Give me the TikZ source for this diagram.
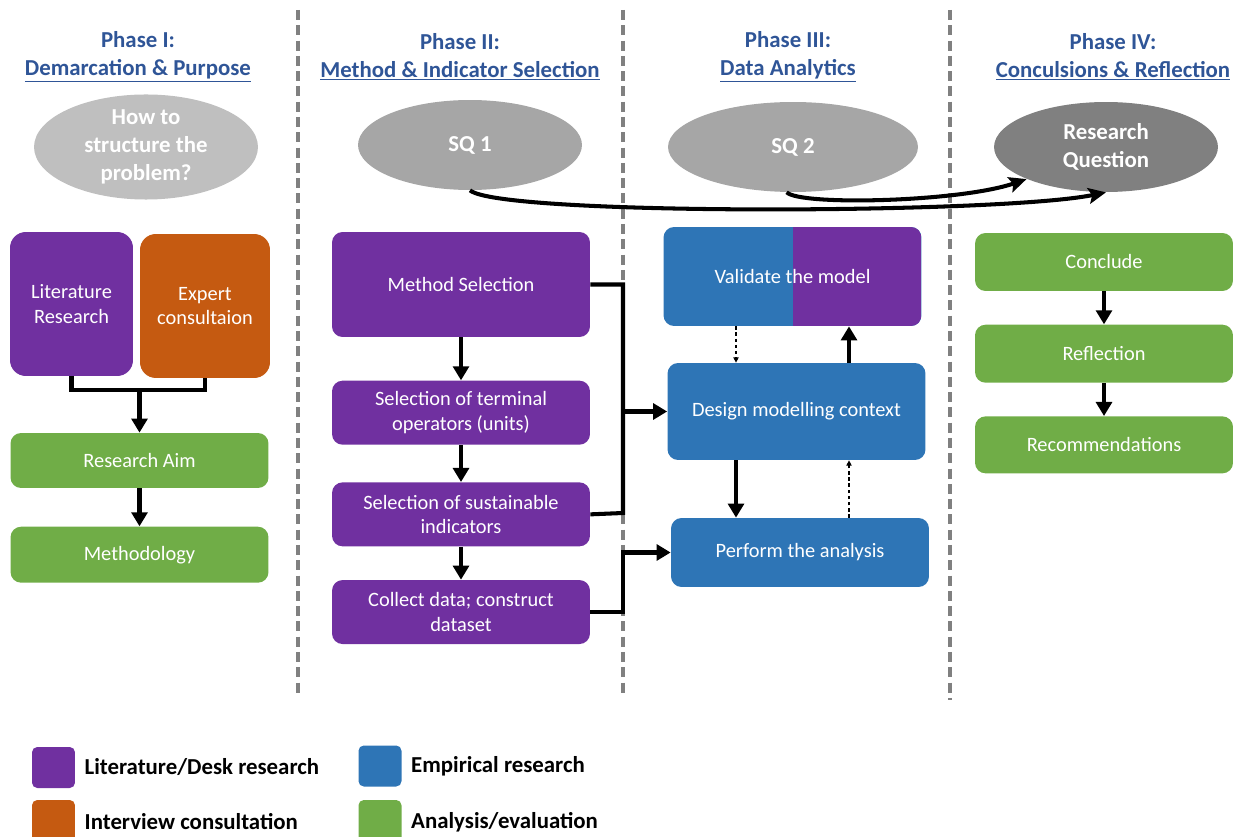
\documentclass[tikz,border=0pt]{standalone}
\usepackage{fontspec}
\setmainfont{Carlito}
\usetikzlibrary{positioning, shapes.geometric, arrows.meta}
\definecolor{litpurple}{HTML}{7030A0}
\definecolor{intorange}{HTML}{C55A11}
\definecolor{empblue}{HTML}{2E75B6}
\definecolor{anagreen}{HTML}{70AD47}
\definecolor{hdrblue}{HTML}{2F5597}
\definecolor{sepgray}{HTML}{808080}

\begin{document}
\begin{tikzpicture}[x=0.02cm, y=-0.02cm, node distance=0.66cm,
    every node/.style={font=\fontsize{11.6}{13.8}\selectfont},
    phase/.style={font=\bfseries\fontsize{13}{15.9}\selectfont, text=hdrblue, align=center},
    question/.style={ellipse, minimum width=4.48cm, minimum height=1.8cm, inner sep=0pt, text=white, align=center, font=\bfseries\fontsize{13}{15.9}\selectfont},
    box/.style={rectangle, rounded corners=6pt, text=white, align=center, inner sep=2pt, minimum width=5.16cm},
    litbox/.style={box, fill=litpurple},
    intbox/.style={box, fill=intorange},
    empbox/.style={box, fill=empblue},
    anabox/.style={box, fill=anagreen},
    legsq/.style={rectangle, rounded corners=3pt, minimum width=0.86cm, minimum height=0.82cm, inner sep=0pt},
    legtxt/.style={font=\bfseries\fontsize{13}{15.9}\selectfont, inner sep=0pt},
    sep/.style={sepgray, line width=2.2pt, dash pattern=on 5.7pt off 3pt},
    line/.style={line width=2.3pt},
    arr/.style={line, -{Triangle[length=8pt,width=9pt]}},
    darr/.style={line width=0.6pt, dash pattern=on 2pt off 1.5pt, -{Triangle[length=3pt,width=3pt]}},
    curvearr/.style={line width=2.3pt, -{Stealth[length=10pt,width=9pt,inset=2pt]}}]
    \useasboundingbox (0,0) rectangle (1240,837);

    \draw[sep] (298,10) -- (298,695);
    \draw[sep] (623,10) -- (623,695);
    \draw[sep] (950,10) -- (950,700);

    \node[phase] (ph1) at (138,57) {Phase I:\\\underline{Demarcation \& Purpose}};
    \node[phase] (ph2) at (460,57) {Phase II:\\\underline{Method \& Indicator Selection}};
    \node[phase] (ph3) at (788,57) {Phase III:\\\underline{Data Analytics}};
    \node[phase] (ph4) at (1113,57) {Phase IV:\\\underline{Conculsions \& Reflection}};

    \node[question, fill=gray!50] (hq) at (146,147) {How to\\structure the\\problem?};
    \node[question, fill=gray!70] (sq1) at (470,145) {SQ 1};
    \node[question, fill=gray!70, minimum width=5cm] (sq2) at (793,147) {SQ 2};
    \node[question, fill=gray] (rq) at (1106,147) {Research\\Question};

    \node[litbox, minimum width=2.46cm, minimum height=2.88cm, rounded corners=9pt] (lit) at (71.5,304) {Literature\\Research};
    \node[intbox, minimum width=2.6cm, minimum height=2.88cm, rounded corners=9pt] (exp) at (205,306) {Expert\\consultaion};
    \node[anabox, minimum height=1.1cm] (aim) at (139.5,460.5) {Research Aim};
    \node[anabox, minimum height=1.12cm] (meth) [below=0.76cm of aim] {Methodology};

    \node[litbox, minimum height=2.1cm] (msel) at (461,284.5) {Method Selection};
    \node[litbox, minimum height=1.28cm] (term) [below=0.86cm of msel] {Selection of terminal\\operators (units)};
    \node[litbox, minimum height=1.28cm] (sust) [below=0.74cm of term] {Selection of sustainable\\indicators};
    \node[litbox, minimum height=1.28cm] (coll) [below=0.66cm of sust] {Collect data; construct\\dataset};

    \node[empbox, minimum height=1.98cm, path picture={\fill[litpurple, sharp corners] (path picture bounding box.north) rectangle (path picture bounding box.south east);}] (val) at (792.5,276.5) {Validate the model};
    \node[empbox, minimum height=1.94cm] (design) at (796.5,411.5) {Design modelling context};
    \node[empbox, minimum height=1.38cm] (perf) at (800,552.5) {Perform the analysis};

    \node[anabox, minimum height=1.16cm] (concl) at (1104,262) {Conclude};
    \node[anabox, minimum height=1.16cm] (refl) [below=of concl] {Reflection};
    \node[anabox, minimum height=1.14cm] (recom) [below=of refl] {Recommendations};

    \node[legsq, fill=litpurple] (lg1) at (53.5,767.5) {};
    \node[legtxt] (lt1) [right=0.18cm of lg1] {Literature/Desk research};
    \node[legsq, fill=intorange, minimum height=0.88cm] (lg2) at (53.5,822) {};
    \node[legtxt] (lt2) [right=0.18cm of lg2] {Interview consultation};
    \node[legsq, fill=empblue] (lg3) at (380,766) {};
    \node[legtxt] (lt3) [right=0.18cm of lg3] {Empirical research};
    \node[legsq, fill=anagreen, minimum height=0.88cm] (lg4) at (380,822) {};
    \node[legtxt] (lt4) [right=0.18cm of lg4] {Analysis/evaluation};

    \coordinate (jl) at (139.5,390);
    \draw[line] (lit.south) |- (jl) -| (exp.south);
    \draw[arr] (jl) -- (aim.north);
    \path[arr] (aim) edge (meth);

    \path[arr] (msel) edge (term) (term) edge (sust) (sust) edge (coll);
    \coordinate (bb) at (623,513);
    \coordinate (bc) at (623,552.5);
    \draw[line] (msel.east) -| (bb) -- (sust.east);
    \draw[arr] (bb |- design.west) -- (design.west);
    \draw[arr] (coll.east) -| (bc) -- (perf.west);

    \coordinate (xa) at (736,0);
    \coordinate (xb) at (849,0);
    \draw[arr] (xa |- design.south) -- (xa |- perf.north);
    \draw[darr] (xa |- val.south) -- (xa |- design.north);
    \draw[arr] (xb |- design.north) -- (xb |- val.south);
    \draw[darr] (xb |- perf.north) -- (xb |- design.south);

    \path[arr] (concl) edge (refl) (refl) edge (recom);

    \draw[curvearr] (sq1.south) .. controls (500,216) and (1000,214) .. (rq.south);
    \draw[curvearr] (sq2.262) .. controls (800,206) and (960,202) .. (rq.south west);
\end{tikzpicture}
\end{document}
